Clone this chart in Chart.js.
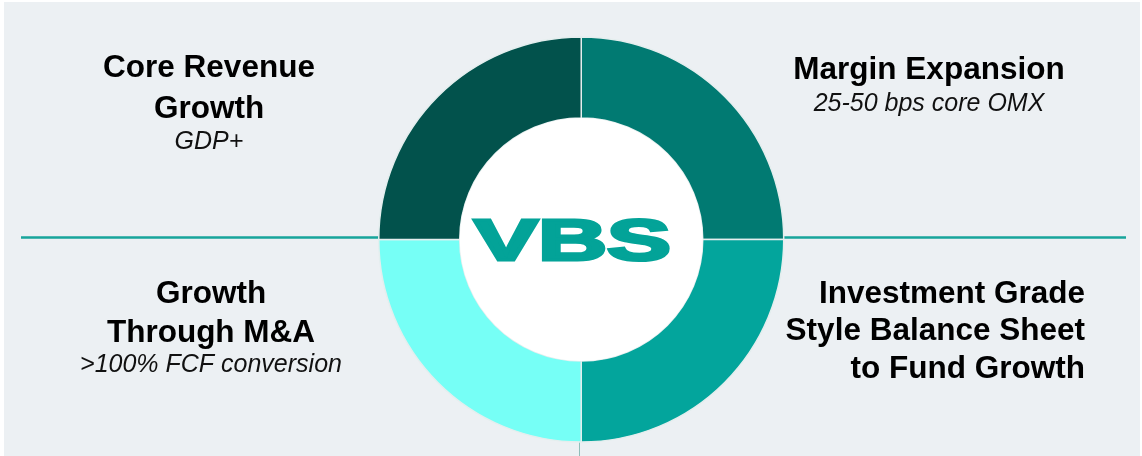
<!DOCTYPE html>
<html>
<head>
<meta charset="utf-8">
<script src="https://cdn.jsdelivr.net/npm/chart.js@4.4.0/dist/chart.umd.min.js"></script>
<style>
  html, body { margin: 0; padding: 0; background: #ffffff; }
  #wrap { width: 1142px; height: 456px; position: relative; }
</style>
</head>
<body>
<div id="wrap"><canvas id="chart"></canvas></div>
<script>
// Quadrants, clockwise from 12 o'clock
const categories = ['Margin Expansion', 'Investment Grade Style Balance Sheet to Fund Growth', 'Growth Through M&A', 'Core Revenue Growth'];
const values = [25, 25, 25, 25];
const headlines = [
    ['Margin Expansion'],
    ['Investment Grade', 'Style Balance Sheet', 'to Fund Growth'],
    ['Growth', 'Through M&A'],
    ['Core Revenue', 'Growth']
];
const subtitles = ['25-50 bps core OMX', '', '>100% FCF conversion', 'GDP+'];
const segmentColors = ['#017a72', '#03a59c', '#76fff6', '#02524c'];
const centerLabel = 'VBS';

// where each quadrant's text sits (baselines per line, then subtitle)
const labelSpots = [
    { x: 929, align: 'center', lines: [79], sub: 111 },
    { x: 1085, align: 'right', lines: [303, 340, 378], sub: null },
    { x: 211, align: 'center', lines: [303, 342], sub: 372 },
    { x: 209, align: 'center', lines: [77, 118], sub: 149 }
];

// Background panel + teal divider behind the ring
const backdropPlugin = {
    id: 'backdrop',
    beforeDraw(chart) {
        const ctx = chart.ctx;
        ctx.save();
        ctx.fillStyle = '#ffffff';
        ctx.fillRect(0, 0, chart.width, chart.height);
        ctx.fillStyle = '#ecf0f3';
        ctx.fillRect(4, 2, chart.width - 6, chart.height - 2);
        ctx.restore();
    },
    beforeDatasetsDraw(chart) {
        const ctx = chart.ctx;
        ctx.save();
        ctx.strokeStyle = '#17a59b';
        ctx.lineWidth = 2.5;
        ctx.beginPath();
        ctx.moveTo(21, 237.5);
        ctx.lineTo(1126, 237.5);
        ctx.stroke();
        ctx.strokeStyle = '#8fbdb9';
        ctx.lineWidth = 1;
        ctx.beginPath();
        ctx.moveTo(579.5, 438);
        ctx.lineTo(579.5, 456);
        ctx.stroke();
        ctx.restore();
    }
};

// White hub with the logo text
const hubPlugin = {
    id: 'hub',
    afterDatasetsDraw(chart) {
        const arc = chart.getDatasetMeta(0).data[0];
        if (!arc) return;
        const ctx = chart.ctx;
        ctx.save();
        ctx.fillStyle = '#ffffff';
        ctx.beginPath();
        ctx.arc(arc.x, arc.y, arc.innerRadius, 0, Math.PI * 2);
        ctx.fill();

        ctx.font = 'bold 58px "Liberation Sans", Arial, sans-serif';
        ctx.fillStyle = '#03a398';
        ctx.strokeStyle = '#03a398';
        ctx.lineWidth = 3;
        ctx.lineJoin = 'miter';
        ctx.textAlign = 'left';
        ctx.textBaseline = 'alphabetic';
        const w = ctx.measureText(centerLabel).width;
        ctx.translate(474, 259.5);
        ctx.scale(197 / w, 1);
        ctx.fillText(centerLabel, 0, 0);
        ctx.strokeText(centerLabel, 0, 0);
        ctx.restore();
    }
};

// Quadrant captions
const captionPlugin = {
    id: 'captions',
    afterDraw(chart) {
        const ctx = chart.ctx;
        ctx.save();
        ctx.fillStyle = '#000000';
        ctx.textBaseline = 'alphabetic';
        headlines.forEach((lines, i) => {
            const spot = labelSpots[i];
            ctx.textAlign = spot.align;
            ctx.font = 'bold 31.5px "Liberation Sans", Arial, sans-serif';
            lines.forEach((line, j) => ctx.fillText(line, spot.x, spot.lines[j]));
            if (subtitles[i] && spot.sub) {
                ctx.font = 'italic 25px "Liberation Sans", Arial, sans-serif';
                ctx.fillStyle = '#111111';
                ctx.fillText(subtitles[i], spot.x, spot.sub);
                ctx.fillStyle = '#000000';
            }
        });
        ctx.restore();
    }
};

const chart = new Chart(document.getElementById('chart'), {
    type: 'doughnut',
    data: {
        labels: categories,
        datasets: [{
            data: values,
            backgroundColor: segmentColors,
            borderColor: '#e4eeee',
            borderWidth: 1.5,
            hoverOffset: 0,
            offset: 0
        }]
    },
    options: {
        responsive: true,
        maintainAspectRatio: false,
        animation: false,
        events: [],
        cutout: '60%',
        layout: {
            padding: { left: 378, right: 357.5, top: 36.25, bottom: 13.25 }
        },
        plugins: {
            legend: { display: false },
            tooltip: { enabled: false }
        }
    },
    plugins: [backdropPlugin, hubPlugin, captionPlugin]
});
</script>
</body>
</html>
